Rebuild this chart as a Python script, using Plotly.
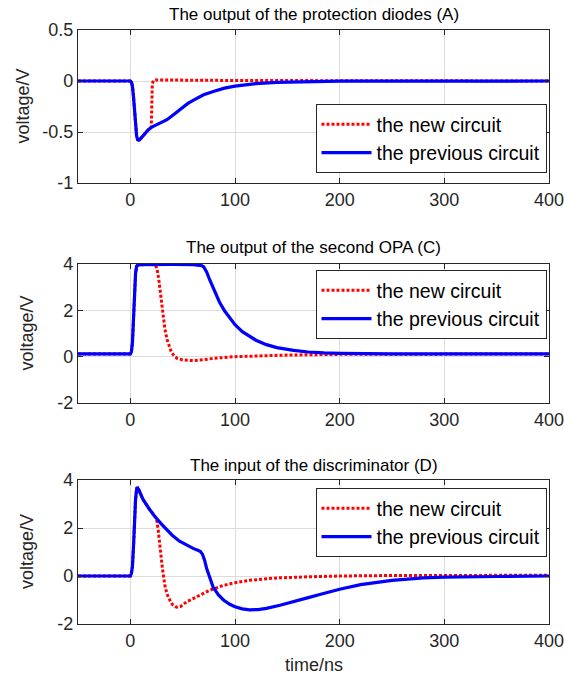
import plotly.graph_objects as go

# ---------------- data ----------------
# Panel A: output of the protection diodes
tA_prev = [-50, 0, 1, 2, 3, 4, 5, 6, 7, 8, 9, 11, 14, 17, 20, 25, 30, 35, 40, 45, 50, 55, 60, 65, 70,
           80, 90, 100, 110, 120, 140, 160, 200, 400]
vA_prev = [0, 0, -0.01, -0.05, -0.15, -0.3, -0.45, -0.54, -0.575, -0.58, -0.575, -0.55, -0.51, -0.48,
           -0.455, -0.43, -0.405, -0.38, -0.34, -0.30, -0.26, -0.22, -0.19, -0.16, -0.135,
           -0.10, -0.07, -0.05, -0.035, -0.025, -0.013, -0.007, -0.002, 0]
tA_new = [-50, 0, 1, 2, 3, 4, 5, 6, 7, 8, 9, 11, 14, 17, 20, 20.5, 21, 22, 24, 30, 100, 400]
vA_new = [0, 0, -0.01, -0.05, -0.15, -0.3, -0.45, -0.54, -0.575, -0.58, -0.575, -0.55, -0.51, -0.48,
          -0.455, -0.2, -0.03, 0.005, 0.01, 0.01, 0.005, 0]

# Panel C: output of the second OPA
tC_prev = [-50, 0, 1, 2, 3, 4, 5, 6, 7, 10, 20, 40, 60, 66, 68, 70, 73, 76, 80, 85, 90, 95, 100,
           107, 114, 120, 130, 140, 156, 170, 185, 200, 250, 400]
vC_prev = [0.12, 0.12, 0.2, 0.6, 1.6, 2.8, 3.6, 3.9, 3.95, 3.97, 3.98, 3.98, 3.97, 3.95, 3.93, 3.88,
           3.65, 3.3, 2.85, 2.37, 1.98, 1.65, 1.38, 1.08, 0.86, 0.71, 0.52, 0.39, 0.27, 0.2, 0.16,
           0.14, 0.12, 0.12]
tC_new = [-50, 0, 1, 2, 3, 4, 5, 6, 7, 10, 20, 24, 25.5, 27, 28.5, 30, 31.5, 33, 35, 37, 39, 42, 45,
          50, 55, 60, 70, 80, 100, 124, 150, 200, 400]
vC_new = [0.12, 0.12, 0.2, 0.6, 1.6, 2.8, 3.6, 3.9, 3.95, 3.97, 3.98, 3.95, 3.8, 3.4, 2.8, 2.2, 1.65,
          1.2, 0.75, 0.45, 0.22, 0.02, -0.08, -0.14, -0.17, -0.17, -0.13, -0.07, 0.0, 0.04, 0.07,
          0.1, 0.12]

# Panel D: input of the discriminator
tD_prev = [-50, 0, 1, 2, 3, 4, 5, 6, 6.5, 8, 12, 18, 23, 30, 35, 40, 47, 55, 60, 65, 67, 69, 71, 73,
           76, 79, 84, 89, 95, 100, 107, 114, 122, 130, 143, 156, 170, 181, 200, 220, 250, 280, 300,
           350, 400]
vD_prev = [0, 0, 0.1, 0.4, 1.2, 2.3, 3.2, 3.6, 3.7, 3.6, 3.2, 2.8, 2.5, 2.15, 1.9, 1.7, 1.45, 1.25,
           1.15, 1.06, 1.02, 0.9, 0.65, 0.3, -0.1, -0.45, -0.78, -1.0, -1.18, -1.28, -1.37, -1.41,
           -1.4, -1.35, -1.22, -1.08, -0.9, -0.77, -0.55, -0.36, -0.18, -0.08, -0.05, -0.02, 0]
tD_new = [-50, 0, 1, 2, 3, 4, 5, 6, 6.5, 8, 12, 18, 23, 25, 26.5, 28, 30.7, 33, 35, 37.7, 40, 44, 48,
          53.7, 60, 66, 76, 89, 100, 114, 140, 172, 200, 250, 400]
vD_new = [0, 0, 0.1, 0.4, 1.2, 2.3, 3.2, 3.6, 3.7, 3.6, 3.2, 2.8, 2.5, 2.4, 1.96, 1.27, 0.3, -0.39,
          -0.75, -1.0, -1.18, -1.3, -1.27, -1.08, -0.94, -0.8, -0.59, -0.39, -0.28, -0.18, -0.08,
          -0.03, 0, 0.02, 0.03]

titles = ["The output of the protection diodes (A)",
          "The output of the second OPA (C)",
          "The input of the discriminator (D)"]
name_new = "the new circuit"
name_prev = "the previous circuit"
x_label = "time/ns"
y_label = "voltage/V"
x_ticks = [0, 100, 200, 300, 400]
yA_ticks = [-1, -0.5, 0, 0.5]
yA_ticktext = ["-1", "-0.5", "0", "0.5"]
yCD_ticks = [-2, 0, 2, 4]
yCD_ticktext = ["-2", "0", "2", "4"]

# ---------------- layout geometry ----------------
W, H = 564, 677
FONT = "Liberation Sans, Arial, Helvetica, sans-serif"
TXT = "#262626"

def py(p):
    return 1 - p / H

x_dom = [78 / W, 549 / W]
px_doms = [(30, 183), (264, 403), (480, 624)]
y_doms = [[py(b), py(t)] for t, b in px_doms]
title_y = [14, 248, 465]
legend_top = [104, 270, 488]
ylabel_x = [22, 27, 27]

fig = go.Figure()

panels = [(tA_new, vA_new, tA_prev, vA_prev), (tC_new, vC_new, tC_prev, vC_prev),
          (tD_new, vD_new, tD_prev, vD_prev)]
for i, (tn, vn, tp, vp) in enumerate(panels):
    sfx = "" if i == 0 else str(i + 1)
    leg = "legend" + sfx
    fig.add_trace(go.Scatter(x=tn, y=vn, mode="lines", name=name_new,
                             line=dict(color="#ff0000", width=3, dash="3px,2px"),
                             xaxis="x" + sfx, yaxis="y" + sfx, legend=leg))
    fig.add_trace(go.Scatter(x=tp, y=vp, mode="lines", name=name_prev,
                             line=dict(color="#0000ff", width=3.2),
                             xaxis="x" + sfx, yaxis="y" + sfx, legend=leg))

axis_common = dict(showline=True, linecolor=TXT, linewidth=1.3, mirror="ticks",
                   ticks="inside", ticklen=5, tickcolor=TXT, showgrid=True,
                   gridcolor="#dcdcdc", gridwidth=1, zeroline=False,
                   tickfont=dict(family=FONT, size=18, color=TXT), automargin=False,
                   ticklabeloverflow="allow")

layout = dict(width=W, height=H, margin=dict(l=0, r=0, t=0, b=0),
              paper_bgcolor="white", plot_bgcolor="white",
              font=dict(family=FONT, color=TXT), showlegend=True, annotations=[])

for i in range(3):
    sfx = "" if i == 0 else str(i + 1)
    xa = dict(axis_common, domain=x_dom, range=[-50, 400], tickvals=x_ticks,
              anchor="y" + sfx)
    ya = dict(axis_common, domain=y_doms[i], anchor="x" + sfx)
    if i == 0:
        ya.update(range=[-1, 0.5], tickvals=yA_ticks, ticktext=yA_ticktext)
    else:
        ya.update(range=[-2, 4], tickvals=yCD_ticks, ticktext=yCD_ticktext)
    layout["xaxis" + sfx] = xa
    layout["yaxis" + sfx] = ya
    layout["legend" + sfx] = dict(x=546.5 / W, xanchor="right", y=py(legend_top[i]), yanchor="top",
                                  bgcolor="white", bordercolor=TXT, borderwidth=1,
                                  font=dict(family=FONT, size=19.5, color="black"),
                                  itemwidth=50, tracegroupgap=0)
    layout["annotations"].append(dict(text=titles[i], x=sum(x_dom) / 2, y=py(title_y[i]),
                                      xref="paper", yref="paper", showarrow=False,
                                      xanchor="center", yanchor="middle",
                                      font=dict(family=FONT, size=17, color="black")))
    yc = (px_doms[i][0] + px_doms[i][1]) / 2
    layout["annotations"].append(dict(text=y_label, x=ylabel_x[i] / W, y=py(yc),
                                      xref="paper", yref="paper", showarrow=False,
                                      xanchor="center", yanchor="middle", textangle=-90,
                                      font=dict(family=FONT, size=18, color=TXT)))

layout["annotations"].append(dict(text=x_label, x=sum(x_dom) / 2, y=py(665),
                                  xref="paper", yref="paper", showarrow=False,
                                  xanchor="center", yanchor="middle",
                                  font=dict(family=FONT, size=18, color=TXT)))

fig.update_layout(**layout)
fig.write_html("out.html")
